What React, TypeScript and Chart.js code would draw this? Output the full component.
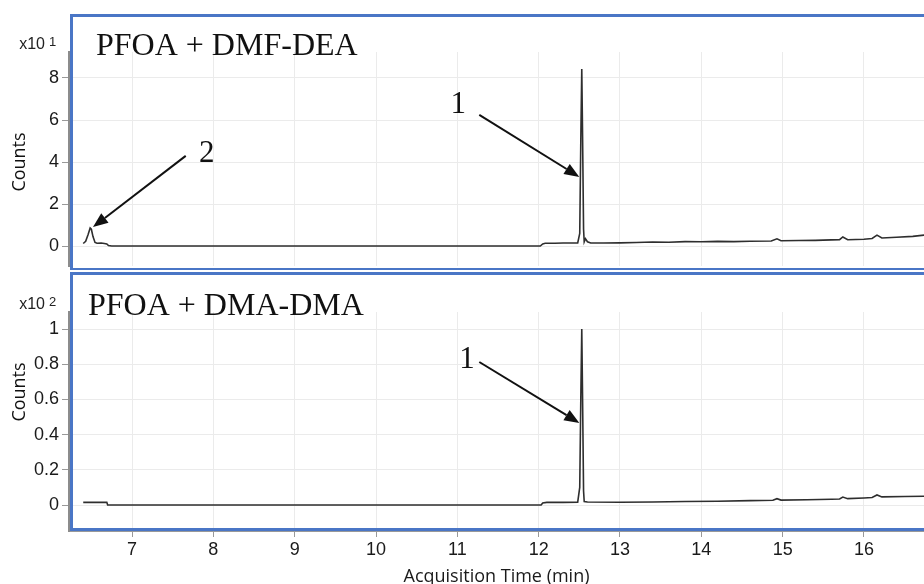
import { useEffect, useRef } from "react";
import { Chart, registerables } from "chart.js";

Chart.register(...registerables);

// ---- data ----
// Panel A: PFOA + DMF-DEA, counts in x10^1
const timeA = [6.4, 6.43, 6.46, 6.485, 6.5, 6.52, 6.545, 6.57, 6.62, 6.66, 6.69, 6.71, 6.75, 8.0, 10.0, 12.02, 12.05, 12.08, 12.2, 12.3, 12.4, 12.48, 12.505, 12.518, 12.53, 12.54, 12.552, 12.56, 12.575, 12.6, 12.64, 12.8, 13.0, 13.2, 13.4, 13.6, 13.8, 14.0, 14.2, 14.4, 14.6, 14.86, 14.93, 14.98, 15.2, 15.4, 15.6, 15.7, 15.74, 15.8, 16.0, 16.1, 16.16, 16.22, 16.4, 16.6, 16.74];
const countsA = [0.12, 0.22, 0.55, 0.86, 0.8, 0.45, 0.17, 0.13, 0.14, 0.12, 0.1, 0.02, 0.0, 0.0, 0.0, 0.0, 0.1, 0.13, 0.13, 0.14, 0.14, 0.15, 0.6, 5.0, 8.43, 5.2, 0.8, 0.2, 0.35, 0.2, 0.14, 0.14, 0.15, 0.17, 0.19, 0.18, 0.21, 0.2, 0.22, 0.21, 0.23, 0.24, 0.34, 0.25, 0.26, 0.27, 0.29, 0.3, 0.43, 0.3, 0.32, 0.36, 0.52, 0.38, 0.42, 0.46, 0.52];

// Panel B: PFOA + DMA-DMA, counts in x10^2
const timeB = [6.4, 6.69, 6.7, 8.0, 10.0, 12.03, 12.05, 12.1, 12.3, 12.48, 12.505, 12.518, 12.53, 12.54, 12.552, 12.56, 12.6, 13.0, 13.4, 13.8, 14.2, 14.6, 14.88, 14.93, 14.98, 15.3, 15.6, 15.7, 15.74, 15.8, 16.0, 16.1, 16.16, 16.22, 16.5, 16.74];
const countsB = [0.015, 0.015, 0.0, 0.0, 0.0, 0.0, 0.012, 0.015, 0.015, 0.016, 0.1, 0.6, 1.0, 0.6, 0.08, 0.02, 0.017, 0.016, 0.017, 0.02, 0.021, 0.025, 0.027, 0.036, 0.028, 0.03, 0.033, 0.034, 0.045, 0.036, 0.04, 0.043, 0.057, 0.046, 0.048, 0.05];

const panelTitles = ["PFOA + DMF-DEA", "PFOA + DMA-DMA"];
const multiplierExp = ["1", "2"];
const xTitle = "Acquisition Time (min)";
const yTitle = "Counts";
const xRange = [6.225, 16.738];
const yRangeA = [-0.952, 9.238];
const yRangeB = [-0.1477, 1.0966];
const yStepA = 2;
const yStepB = 0.2;
const xStep = 1;

// annotations: label, label x/y (baseline), arrow from x/y, arrow to x/y (data units)
const notesA = [
  { label: "1", lx: 11.01, ly: 6.33, fx: 11.27, fy: 6.24, tx: 12.5, ty: 3.29 },
  { label: "2", lx: 7.92, ly: 4.0, fx: 7.66, fy: 4.29, tx: 6.52, ty: 0.9 },
];
const notesB = [
  { label: "1", lx: 11.12, ly: 0.778, fx: 11.27, fy: 0.8125, tx: 12.5, ty: 0.466 },
];

const BLUE = "#4a76c6";
const TICK_FONT = { family: '"Liberation Sans", Arial, sans-serif', size: 18 };

function zeroPad(s: any) {
  s.paddingLeft = 0;
  s.paddingRight = 0;
  s.paddingTop = 0;
  s.paddingBottom = 0;
}

function decorPlugin(cfg: any) {
  return {
    id: "decor" + cfg.idx,
    afterDraw(chart: any) {
      const { ctx, chartArea, scales } = chart;
      const xs = scales.x;
      const ys = scales.y;
      ctx.save();
      // panel title
      ctx.fillStyle = "#111";
      ctx.font = '32px "Liberation Serif", "Times New Roman", serif';
      ctx.textAlign = "left";
      ctx.textBaseline = "alphabetic";
      ctx.fillText(cfg.title, chartArea.left + cfg.titleDx, chartArea.top + 3);
      // multiplier
      ctx.fillStyle = "#222";
      ctx.font = '16px "Liberation Sans", Arial, sans-serif';
      ctx.textAlign = "right";
      ctx.textBaseline = "middle";
      ctx.fillText("x10", 45, chartArea.top - 7);
      ctx.font = '13px "Liberation Sans", Arial, sans-serif';
      ctx.textAlign = "left";
      ctx.fillText(cfg.exp, 49, chartArea.top - 10);
      // y title
      ctx.save();
      ctx.translate(20, cfg.countsY);
      ctx.rotate(-Math.PI / 2);
      ctx.font = '18px "Open Sans", sans-serif';
      ctx.textAlign = "center";
      ctx.textBaseline = "middle";
      ctx.fillStyle = "#111";
      ctx.fillText(yTitle, 0, 0);
      ctx.restore();
      // annotations
      for (const n of cfg.notes) {
        const x1 = xs.getPixelForValue(n.fx);
        const y1 = ys.getPixelForValue(n.fy);
        const x2 = xs.getPixelForValue(n.tx);
        const y2 = ys.getPixelForValue(n.ty);
        const ang = Math.atan2(y2 - y1, x2 - x1);
        const headLen = 15;
        const headW = 6;
        const bx = x2 - headLen * Math.cos(ang);
        const by = y2 - headLen * Math.sin(ang);
        ctx.strokeStyle = "#111";
        ctx.fillStyle = "#111";
        ctx.lineWidth = 2;
        ctx.beginPath();
        ctx.moveTo(x1, y1);
        ctx.lineTo(bx, by);
        ctx.stroke();
        ctx.beginPath();
        ctx.moveTo(x2, y2);
        ctx.lineTo(bx + headW * Math.sin(ang), by - headW * Math.cos(ang));
        ctx.lineTo(bx - headW * Math.sin(ang), by + headW * Math.cos(ang));
        ctx.closePath();
        ctx.fill();
        ctx.font = '31px "Liberation Serif", "Times New Roman", serif';
        ctx.textAlign = "center";
        ctx.textBaseline = "alphabetic";
        ctx.fillText(n.label, xs.getPixelForValue(n.lx), ys.getPixelForValue(n.ly));
      }
      // blue frame
      ctx.strokeStyle = BLUE;
      ctx.lineWidth = 3;
      ctx.strokeRect(71.5, cfg.frameTop, 3000, cfg.frameH);
      ctx.restore();
    },
  };
}

function buildConfig(opts: any): any {
  const { times, counts, yRange, yStep, bottom, plugin, padTop, xHeight } = opts;
  return {
    type: "line",
    data: {
      datasets: [
        {
          data: times.map((t: number, i: number) => ({ x: t, y: counts[i] })),
          borderColor: "#2e2e2e",
          borderWidth: 1.6,
          pointRadius: 0,
          tension: 0,
          fill: false,
        },
      ],
    },
    options: {
      animation: false,
      responsive: false,
      devicePixelRatio: 1,
      layout: { padding: { top: padTop, left: 0, right: 0, bottom: 0 } },
      plugins: { legend: { display: false }, tooltip: { enabled: false } },
      scales: {
        x: {
          type: "linear",
          min: xRange[0],
          max: xRange[1],
          afterFit: (s: any) => {
            s.height = xHeight;
            zeroPad(s);
          },
          grid: {
            color: "#ebebeb",
            lineWidth: 1,
            drawTicks: bottom,
            tickLength: 6,
            tickColor: "#999",
          },
          border: { display: bottom, color: "#999", width: 1 },
          ticks: {
            display: bottom,
            stepSize: xStep,
            includeBounds: false,
            autoSkip: false,
            maxRotation: 0,
            padding: 2,
            color: "#1a1a1a",
            font: TICK_FONT,
          },
          title: {
            display: bottom,
            text: xTitle,
            color: "#1a1a1a",
            font: { family: '"Open Sans", sans-serif', size: 18, lineHeight: 0.8 },
            padding: { top: 0, bottom: 0 },
          },
        },
        y: {
          type: "linear",
          min: yRange[0],
          max: yRange[1],
          afterFit: (s: any) => {
            s.width = 69;
            zeroPad(s);
          },
          grid: {
            color: "#ebebeb",
            lineWidth: 1,
            drawTicks: true,
            tickLength: 7,
            tickColor: "#999",
          },
          border: { display: true, color: "#8c8c8c", width: 2 },
          ticks: {
            stepSize: yStep,
            includeBounds: false,
            autoSkip: false,
            padding: 3,
            color: "#1a1a1a",
            font: TICK_FONT,
            callback: (v: number) => String(Number(v.toFixed(2))),
          },
        },
      },
    },
    plugins: [plugin],
  };
}

export default function App() {
  const topRef = useRef<HTMLCanvasElement>(null);
  const botRef = useRef<HTMLCanvasElement>(null);

  useEffect(() => {
    const top = new Chart(
      topRef.current as HTMLCanvasElement,
      buildConfig({
        times: timeA,
        counts: countsA,
        yRange: yRangeA,
        yStep: yStepA,
        bottom: false,
        padTop: 52,
        xHeight: 4,
        plugin: decorPlugin({
          idx: 0,
          title: panelTitles[0],
          titleDx: 27,
          exp: multiplierExp[0],
          countsY: 162,
          notes: notesA,
          frameTop: 15.5,
          frameH: 254,
        }),
      })
    );
    const bot = new Chart(
      botRef.current as HTMLCanvasElement,
      buildConfig({
        times: timeB,
        counts: countsB,
        yRange: yRangeB,
        yStep: yStepB,
        bottom: true,
        padTop: 42,
        xHeight: 53,
        plugin: decorPlugin({
          idx: 1,
          title: panelTitles[1],
          titleDx: 19,
          exp: multiplierExp[1],
          countsY: 122,
          notes: notesB,
          frameTop: 3.5,
          frameH: 256,
        }),
      })
    );
    return () => {
      top.destroy();
      bot.destroy();
    };
  }, []);

  return (
    <div style={{ position: "fixed", left: 0, top: 0, width: 924, height: 584, background: "#fff", overflow: "hidden" }}>
      <canvas ref={topRef} width={924} height={270} style={{ position: "absolute", left: 0, top: 0, width: 924, height: 270 }} />
      <canvas ref={botRef} width={924} height={314} style={{ position: "absolute", left: 0, top: 270, width: 924, height: 314 }} />
    </div>
  );
}
